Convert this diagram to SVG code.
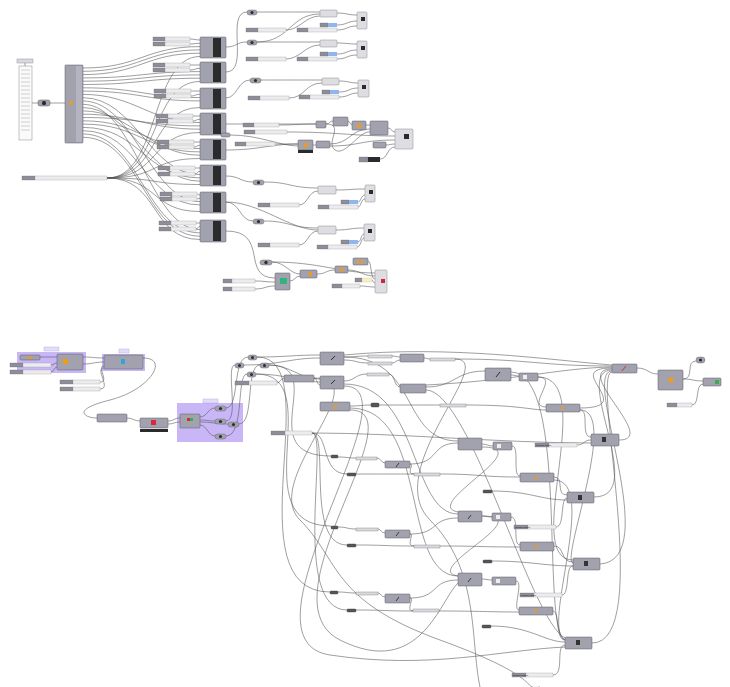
<svg xmlns="http://www.w3.org/2000/svg" width="730" height="687" viewBox="0 0 730 687">
<style>
.n{fill:#a2a2ae;stroke:#5a5a64;stroke-width:.5}
.lt{fill:#dedee2;stroke:#8a8a90;stroke-width:.5}
.k{fill:#2b2b2e}
.sl{fill:#8e8e9a;stroke:#666;stroke-width:.3}
.sb{fill:#ececee;stroke:#9a9aa0;stroke-width:.35}
.bl{fill:#8fb7ee}
.ye{fill:#f7f0c2}
.pn{fill:#dadade;stroke:#7c7c84;stroke-width:.4}
.dk{fill:#55555c;stroke:#333;stroke-width:.4}
.tg{fill:#a2a2ae;stroke:#55555e;stroke-width:.4}
.tc{fill:#2e2e30}
.or{fill:#f29a1c}
.grp{fill:#c9b6f7}
.tab{fill:#e4dcfb;stroke:#9a8ad0;stroke-width:.3}
.w{fill:none;stroke:#4e4e52;stroke-width:.55}
.t{font-family:'Liberation Sans',Arial,sans-serif;font-size:2.4px;fill:#222}
</style>
<rect width="730" height="687" fill="#ffffff"/>

<g id="groups">
<rect class="grp" x="17" y="352" width="69" height="21"/>
<rect class="tab" x="44" y="347" width="15" height="4"/>
<rect class="grp" x="102" y="354" width="43" height="17"/>
<rect class="tab" x="119" y="349" width="10" height="4"/>
<rect class="grp" x="177" y="403" width="66" height="39"/>
<rect class="tab" x="203" y="399" width="15" height="4"/>
</g>

<g id="connectors">
<path class="w" d="M32 103 C35 103,35 103,38 103"/>
<path class="w" d="M50 103 C57 103,58 103,65 103"/>
<path class="w" d="M25 63 L25 66"/>
<path class="w" d="M83 68 C140 68,145 46.6,200 46.6"/>
<path class="w" d="M83 71.3 C140 71.3,145 49.9,200 49.9"/>
<path class="w" d="M83 74.6 C140 74.6,145 53.2,200 53.2"/>
<path class="w" d="M83 77.9 C140 77.9,145 71.6,200 71.6"/>
<path class="w" d="M83 81.2 C140 81.2,145 74.9,200 74.9"/>
<path class="w" d="M83 84.5 C140 84.5,145 78.2,200 78.2"/>
<path class="w" d="M83 87.8 C140 87.8,145 97.6,200 97.6"/>
<path class="w" d="M83 91.1 C140 91.1,145 100.9,200 100.9"/>
<path class="w" d="M83 94.4 C135 94.4,150 122.6,200 122.6"/>
<path class="w" d="M83 117.5 C140 117.5,145 125.9,200 125.9"/>
<path class="w" d="M83 120.8 C140 120.8,145 148.6,200 148.6"/>
<path class="w" d="M83 124.1 C140 124.1,145 151.9,200 151.9"/>
<path class="w" d="M83 97.7 C135 97.7,150 174.6,200 174.6"/>
<path class="w" d="M83 127.4 C140 127.4,145 177.9,200 177.9"/>
<path class="w" d="M83 101 C135 101,150 201.6,200 201.6"/>
<path class="w" d="M83 130.7 C140 130.7,145 204.9,200 204.9"/>
<path class="w" d="M83 104.3 C135 104.3,150 229.6,200 229.6"/>
<path class="w" d="M83 134 C140 134,145 232.9,200 232.9"/>
<path class="w" d="M83 137.3 C140 137.3,145 236.2,200 236.2"/>
<path class="w" d="M83 107.6 C130 107.6,150 181.2,200 181.2"/>
<path class="w" d="M83 110.9 C130 110.9,150 155.2,200 155.2"/>
<path class="w" d="M83 114.2 C130 114.2,150 129.2,200 129.2"/>
<path class="w" d="M190 39 C195 39,195 40,200 40"/>
<path class="w" d="M190 44 C195 44,195 43.3,200 43.3"/>
<path class="w" d="M190 65 C195 65,195 65,200 65"/>
<path class="w" d="M190 70 C195 70,195 68.3,200 68.3"/>
<path class="w" d="M191 91 C195 91,195 91,200 91"/>
<path class="w" d="M191 96 C195 96,195 94.3,200 94.3"/>
<path class="w" d="M193 116 C196 116,196 116,200 116"/>
<path class="w" d="M193 121 C196 121,196 119.3,200 119.3"/>
<path class="w" d="M194 142 C197 142,197 142,200 142"/>
<path class="w" d="M194 147 C197 147,197 145.3,200 145.3"/>
<path class="w" d="M195 168 C197 168,197 168,200 168"/>
<path class="w" d="M195 174 C197 174,197 171.3,200 171.3"/>
<path class="w" d="M197 194 C198 194,198 195,200 195"/>
<path class="w" d="M197 199 C198 199,198 198.3,200 198.3"/>
<path class="w" d="M196 223 C198 223,198 223,200 223"/>
<path class="w" d="M196 229 C198 229,198 226.3,200 226.3"/>
<path class="w" d="M107 178 C160 178,150 56.5,200 56.5"/>
<path class="w" d="M107 178 C160 178,150 81.5,200 81.5"/>
<path class="w" d="M107 178 C160 178,150 107.5,200 107.5"/>
<path class="w" d="M107 178 C160 178,150 132.5,200 132.5"/>
<path class="w" d="M107 178 C160 178,150 158.5,200 158.5"/>
<path class="w" d="M107 178 C160 178,150 184.5,200 184.5"/>
<path class="w" d="M107 178 C160 178,150 211.5,200 211.5"/>
<path class="w" d="M107 178 C160 178,150 239.5,200 239.5"/>
<path class="w" d="M226 47 C237 47,236 42,247 42"/>
<path class="w" d="M226 72 C250 72,225 12,247 12"/>
<path class="w" d="M226 98 C237 98,238 80,250 80"/>
<path class="w" d="M226 124 C270 124,280 124,316 124"/>
<path class="w" d="M226 150 C260 150,270 144,298 144"/>
<path class="w" d="M226 176 C240 176,240 182,253 182"/>
<path class="w" d="M226 202 C260 202,290 230,318 230"/>
<path class="w" d="M226 202 C240 202,240 221,253 221"/>
<path class="w" d="M226 231 C270 231,240 278,275 278"/>
<path class="w" d="M230 135 C260 135,280 146,298 146"/>
<path class="w" d="M257 12 C290 12,290 12,320 12"/>
<path class="w" d="M257 42 C290 42,290 14,320 14"/>
<path class="w" d="M286 30 C300 30,305 16,320 16"/>
<path class="w" d="M337 13 C347 13,347 15,357 15"/>
<path class="w" d="M337 25 C347 25,347 21,357 21"/>
<path class="w" d="M337 30 C347 30,347 26,357 26"/>
<path class="w" d="M257 42 C290 42,290 42,320 42"/>
<path class="w" d="M286 59 C300 59,305 45,320 45"/>
<path class="w" d="M337 43 C347 43,347 44,357 44"/>
<path class="w" d="M337 54 C347 54,347 50,357 50"/>
<path class="w" d="M337 59 C347 59,347 55,357 55"/>
<path class="w" d="M261 80 C290 80,290 80,322 80"/>
<path class="w" d="M289 98 C305 98,305 83,322 83"/>
<path class="w" d="M339 81 C349 81,349 83,358 83"/>
<path class="w" d="M339 92 C349 92,349 88,358 88"/>
<path class="w" d="M339 97 C349 97,349 93,358 93"/>
<path class="w" d="M279 125 C297 125,297 124,316 124"/>
<path class="w" d="M326 124 C330 124,329 121,333 121"/>
<path class="w" d="M348 121 C350 121,350 125,352 125"/>
<path class="w" d="M366 125 C368 125,368 125,370 125"/>
<path class="w" d="M388 128 C392 128,391 132,395 132"/>
<path class="w" d="M287 132 C340 132,350 136,395 136"/>
<path class="w" d="M275 144 C287 144,287 144,298 144"/>
<path class="w" d="M313 145 C315 145,315 145,316 145"/>
<path class="w" d="M330 144 C350 144,350 129,370 129"/>
<path class="w" d="M330 146 C360 146,360 140,395 140"/>
<path class="w" d="M326 124 C345 124,325 143,335 150 S 360 130,370 132"/>
<path class="w" d="M386 145 C390 145,391 144,395 144"/>
<path class="w" d="M380 159 C388 159,387 147,395 147"/>
<path class="w" d="M264 182 C290 182,290 188,318 188"/>
<path class="w" d="M299 205 C308 205,308 191,318 191"/>
<path class="w" d="M336 190 C350 190,350 189,365 189"/>
<path class="w" d="M358 202 C361 202,361 195,365 195"/>
<path class="w" d="M358 207 C361 207,361 199,365 199"/>
<path class="w" d="M264 221 C290 221,290 228,318 228"/>
<path class="w" d="M299 245 C308 245,308 231,318 231"/>
<path class="w" d="M336 230 C350 230,350 228,364 228"/>
<path class="w" d="M358 242 C361 242,361 234,364 234"/>
<path class="w" d="M357 247 C361 247,361 238,364 238"/>
<path class="w" d="M272 262 C285 262,290 274,300 274"/>
<path class="w" d="M272 262 C320 262,340 273,375 273"/>
<path class="w" d="M255 281 C265 281,265 282,275 282"/>
<path class="w" d="M255 289 C265 289,265 286,275 286"/>
<path class="w" d="M290 281 C295 281,295 276,300 276"/>
<path class="w" d="M317 274 C326 274,326 270,335 270"/>
<path class="w" d="M348 270 C360 270,362 276,375 276"/>
<path class="w" d="M368 261 C372 261,370 279,375 279"/>
<path class="w" d="M372 280 C373 280,373 283,375 283"/>
<path class="w" d="M360 286 C367 286,368 287,375 287"/>

<path class="w" d="M40 357 C48 357,49 357,57 357"/>
<path class="w" d="M51 365 C54 365,54 363,57 363"/>
<path class="w" d="M51 372 C54 372,54 367,57 367"/>
<path class="w" d="M83 357 C93 357,94 358,104 358"/>
<path class="w" d="M83 364 C93 364,94 362,104 362"/>
<path class="w" d="M100 382 C110 382,96 366,104 366"/>
<path class="w" d="M100 389 C112 389,94 368,104 368"/>
<path class="w" d="M143 358 C170 358,150 390,110 400 S85 418,97 418"/>
<path class="w" d="M127 418 C133 418,134 421,140 421"/>
<path class="w" d="M168 421 C174 421,174 418,180 418"/>
<path class="w" d="M168 424 C174 424,174 422,180 422"/>
<path class="w" d="M200 417 C207 417,208 408,215 408"/>
<path class="w" d="M200 420 C207 420,208 421,215 421"/>
<path class="w" d="M200 422 C212 422,216 424,228 424"/>
<path class="w" d="M200 425 C207 425,208 436,215 436"/>
<path class="w" d="M226 408 C240 408,232 357,248 357"/>
<path class="w" d="M226 421 C240 421,225 365,235 365"/>
<path class="w" d="M239 424 C255 424,245 365,260 365"/>
<path class="w" d="M226 436 C245 436,236 374,247 374"/>
<path class="w" d="M257 357 C285 357,295 355,320 355"/>
<path class="w" d="M244 365 C280 365,290 358,320 358"/>
<path class="w" d="M269 365 C290 365,300 379,320 379"/>
<path class="w" d="M256 374 C285 374,300 382,320 382"/>
<path class="w" d="M277 383 C280 383,281 378,284 378"/>
<path class="w" d="M314 378 C317 378,317 385,320 385"/>
<path class="w" d="M344 357 C356 357,356 356,368 356"/>
<path class="w" d="M344 360 C356 360,356 363,368 363"/>
<path class="w" d="M344 381 C355 381,355 374,367 374"/>
<path class="w" d="M392 356 C396 356,396 357,400 357"/>
<path class="w" d="M392 363 C396 363,396 360,400 360"/>
<path class="w" d="M424 358 C427 358,427 359,430 359"/>
<path class="w" d="M455 359 C530 359,540 366,612 366"/>
<path class="w" d="M389 374 C395 374,394 387,400 387"/>
<path class="w" d="M426 387 C455 387,455 371,485 371"/>
<path class="w" d="M350 406 C360 406,362 405,371 405"/>
<path class="w" d="M379 405 C410 405,410 405,440 405"/>
<path class="w" d="M466 405 C520 405,530 410,546 410"/>
<path class="w" d="M511 375 C515 375,515 376,519 376"/>
<path class="w" d="M538 377 C560 377,525 407,546 407"/>
<path class="w" d="M637 368 C648 368,648 374,658 374"/>
<path class="w" d="M683 379 C695 379,685 361,696 361"/>
<path class="w" d="M683 379 C693 379,693 381,703 381"/>
<path class="w" d="M692 405 C700 405,695 384,703 384"/>
<path class="w" d="M580 408 C640 408,560 368,612 368"/>
<path class="w" d="M619 440 C660 440,570 369,612 369"/>
<path class="w" d="M594 497 C650 497,570 370,612 370"/>
<path class="w" d="M600 564 C665 560,580 371,612 371"/>
<path class="w" d="M592 643 C655 643,590 372,612 372"/>
<path class="w" d="M577 445 C585 445,583 440,591 440"/>
<path class="w" d="M580 410 C590 410,580 437,591 437"/>
<path class="w" d="M482 444 C487 444,488 446,493 446"/>
<path class="w" d="M512 446 C520 446,512 476,520 476"/>
<path class="w" d="M554 477 C565 477,555 495,567 495"/>
<path class="w" d="M556 527 C565 527,560 498,567 498"/>
<path class="w" d="M482 516 C487 516,487 517,492 517"/>
<path class="w" d="M511 517 C520 517,512 545,520 545"/>
<path class="w" d="M554 546 C565 546,560 562,573 562"/>
<path class="w" d="M562 595 C570 595,565 565,573 566"/>
<path class="w" d="M482 579 C487 579,487 580,492 580"/>
<path class="w" d="M516 581 C524 581,512 610,519 610"/>
<path class="w" d="M553 611 C560 611,555 640,565 640"/>
<path class="w" d="M553 675 C565 675,555 645,565 645"/>
<path class="w" d="M338 457 C347 457,347 458,356 458"/>
<path class="w" d="M377 458 C381 458,381 463,385 463"/>
<path class="w" d="M356 474 C385 474,385 474,414 474"/>
<path class="w" d="M410 464 C415 464,405 474,414 474"/>
<path class="w" d="M440 474 C480 474,480 477,520 477"/>
<path class="w" d="M492 491 C530 491,540 500,567 500"/>
<path class="w" d="M338 527 C347 527,347 529,356 529"/>
<path class="w" d="M378 529 C381 529,381 533,385 533"/>
<path class="w" d="M356 545 C385 545,385 546,414 546"/>
<path class="w" d="M410 534 C415 534,405 546,414 546"/>
<path class="w" d="M440 546 C480 546,480 547,520 547"/>
<path class="w" d="M492 561 C530 561,545 566,573 566"/>
<path class="w" d="M338 592 C347 592,347 593,356 593"/>
<path class="w" d="M378 593 C381 593,381 597,385 597"/>
<path class="w" d="M356 610 C385 610,385 611,413 611"/>
<path class="w" d="M410 598 C415 598,405 611,413 611"/>
<path class="w" d="M439 611 C480 611,490 612,519 612"/>
<path class="w" d="M491 626 C530 626,545 642,565 642"/>
<path class="w" d="M410 464 C440 464,430 443,458 443"/>
<path class="w" d="M344 357 C420 357,400 441,458 441"/>
<path class="w" d="M344 384 C420 384,410 514,458 514"/>
<path class="w" d="M350 408 C430 408,400 576,458 576"/>
<path class="w" d="M410 534 C440 534,430 518,458 518"/>
<path class="w" d="M410 598 C440 598,430 580,458 580"/>
<path class="w" d="M269 365 C330 365,250 456,331 456"/>
<path class="w" d="M256 374 C330 374,240 526,331 526"/>
<path class="w" d="M257 357 C330 357,230 592,330 592"/>
<path class="w" d="M312 433 C330 433,320 474,347 474"/>
<path class="w" d="M312 433 C330 433,305 545,347 545"/>
<path class="w" d="M312 433 C330 433,290 610,347 610"/>
<path class="w" d="M344 386 C420 386,230 640,330 655 S500 650,565 647"/>
<path class="w" d="M350 410 C420 410,260 600,340 640 S440 600,458 583"/>
<path class="w" d="M538 377 C600 377,520 560,573 560"/>
<path class="w" d="M511 372 C570 372,540 630,565 640"/>
<path class="w" d="M482 447 C540 447,420 505,458 512"/>
<path class="w" d="M482 516 C540 516,420 570,458 576"/>
<path class="w" d="M426 390 C470 390,530 620,565 638"/>
<path class="w" d="M580 410 C620 410,560 560,573 563"/>
<path class="w" d="M554 480 C600 480,540 630,565 640"/>
<path class="w" d="M344 355 C450 345,550 360,612 365"/>
<path class="w" d="M426 385 C520 380,560 368,612 367"/>
<path class="w" d="M312 433 C400 433,500 443,591 443"/>
<path class="w" d="M314 378 C380 378,260 480,300 520 S330 600,440 640 S520 690,540 687"/>
<path class="w" d="M455 359 C500 359,380 470,430 520 S470 640,480 687"/>
</g>

<g id="valuelist">
<rect class="pn" x="17" y="59" width="16" height="4"/>
<rect x="19" y="66" width="13" height="74" fill="#fafafa" stroke="#8a8a90" stroke-width=".5"/>
<path d="M21 70h9M21 74h9M21 78h9M21 82h9M21 86h9M21 90h9M21 94h9M21 98h9M21 102h9M21 106h9M21 110h9M21 114h9M21 118h9M21 122h9M21 126h9M21 130h9" stroke="#c4c4c8" stroke-width=".8"/>
</g>
<g id="relay"><rect class="n" x="38" y="100" width="12" height="6" rx="2"/><rect class="k" x="42" y="101" width="4" height="4" rx="1.5"/></g>
<g id="listitem"><rect class="n" x="65" y="65" width="18" height="78" rx="1"/><rect x="76" y="66" width="6" height="76" fill="#b4b4c0"/><circle class="or" cx="71" cy="103" r="2"/></g>
<g id="longslider"><rect class="sl" x="22" y="176" width="13" height="4"/><rect class="sb" x="35" y="176" width="72" height="4"/></g>

<g id="c1"><rect class="sl" x="153" y="37" width="12" height="4"/><rect class="sb" x="165" y="37" width="25" height="4"/><rect class="sl" x="153" y="42" width="12" height="4"/><rect class="sb" x="165" y="42" width="25" height="4"/><rect class="n" x="200" y="37" width="26" height="21" rx="1"/><rect class="k" x="213" y="38" width="8" height="19"/></g>
<g id="c2"><rect class="sl" x="153" y="63" width="12" height="4"/><rect class="sb" x="165" y="63" width="25" height="4"/><rect class="sl" x="153" y="68" width="12" height="4"/><rect class="sb" x="165" y="68" width="25" height="4"/><rect class="n" x="200" y="62" width="26" height="21" rx="1"/><rect class="k" x="213" y="63" width="8" height="19"/></g>
<g id="c3"><rect class="sl" x="154" y="89" width="12" height="4"/><rect class="sb" x="166" y="89" width="25" height="4"/><rect class="sl" x="154" y="94" width="12" height="4"/><rect class="sb" x="166" y="94" width="25" height="4"/><rect class="n" x="200" y="88" width="26" height="21" rx="1"/><rect class="k" x="213" y="89" width="8" height="19"/></g>
<g id="c4"><rect class="sl" x="156" y="114" width="12" height="4"/><rect class="sb" x="168" y="114" width="25" height="4"/><rect class="sl" x="156" y="119" width="12" height="4"/><rect class="sb" x="168" y="119" width="25" height="4"/><rect class="n" x="200" y="113" width="26" height="22" rx="1"/><rect class="k" x="213" y="114" width="8" height="20"/><rect class="n" x="221" y="133" width="9" height="4" rx="1.5"/></g>
<g id="c5"><rect class="sl" x="157" y="140" width="12" height="4"/><rect class="sb" x="169" y="140" width="25" height="4"/><rect class="sl" x="157" y="145" width="12" height="4"/><rect class="sb" x="169" y="145" width="25" height="4"/><rect class="n" x="200" y="139" width="26" height="21" rx="1"/><rect class="k" x="213" y="140" width="8" height="19"/></g>
<g id="c6"><rect class="sl" x="158" y="166" width="12" height="4"/><rect class="sb" x="170" y="166" width="25" height="4"/><rect class="sl" x="158" y="172" width="12" height="4"/><rect class="sb" x="170" y="172" width="25" height="4"/><rect class="n" x="200" y="165" width="26" height="21" rx="1"/><rect class="k" x="213" y="166" width="8" height="19"/></g>
<g id="c7"><rect class="sl" x="160" y="192" width="12" height="4"/><rect class="sb" x="172" y="192" width="25" height="4"/><rect class="sl" x="160" y="197" width="12" height="4"/><rect class="sb" x="172" y="197" width="25" height="4"/><rect class="n" x="200" y="192" width="26" height="21" rx="1"/><rect class="k" x="213" y="193" width="8" height="19"/></g>
<g id="c8"><rect class="sl" x="159" y="221" width="12" height="4"/><rect class="sb" x="171" y="221" width="25" height="4"/><rect class="sl" x="159" y="227" width="12" height="4"/><rect class="sb" x="171" y="227" width="25" height="4"/><rect class="n" x="200" y="220" width="26" height="22" rx="1"/><rect class="k" x="213" y="221" width="8" height="20"/></g>

<g id="rowA"><rect class="tg" x="247" y="10" width="10" height="5" rx="2.5"/><circle class="tc" cx="252" cy="12.5" r="1.6"/><rect class="lt" x="320" y="10" width="17" height="7" rx="1"/><rect class="lt" x="357" y="12" width="10" height="17" rx="1"/><rect class="k" x="361" y="17" width="4" height="4"/><rect class="sl" x="320" y="23" width="8" height="4"/><rect class="bl" x="328" y="23" width="9" height="4"/><rect class="sl" x="297" y="28" width="11" height="4"/><rect class="sb" x="308" y="28" width="29" height="4"/><rect class="sl" x="246" y="28" width="12" height="4"/><rect class="sb" x="258" y="28" width="28" height="4"/></g>
<g id="rowB"><rect class="tg" x="247" y="40" width="10" height="5" rx="2.5"/><circle class="tc" cx="252" cy="42.5" r="1.6"/><rect class="lt" x="320" y="40" width="17" height="7" rx="1"/><rect class="lt" x="357" y="41" width="10" height="17" rx="1"/><rect class="k" x="361" y="46" width="4" height="4"/><rect class="sl" x="320" y="52" width="8" height="4"/><rect class="bl" x="328" y="52" width="9" height="4"/><rect class="sl" x="297" y="57" width="11" height="4"/><rect class="sb" x="308" y="57" width="29" height="4"/><rect class="sl" x="246" y="57" width="12" height="4"/><rect class="sb" x="258" y="57" width="28" height="4"/></g>
<g id="rowC"><rect class="tg" x="250" y="78" width="11" height="5" rx="2.5"/><circle class="tc" cx="255.5" cy="80.5" r="1.6"/><rect class="lt" x="322" y="78" width="17" height="7" rx="1"/><rect class="lt" x="358" y="80" width="11" height="17" rx="1"/><rect class="k" x="362" y="85" width="4" height="4"/><rect class="sl" x="322" y="90" width="8" height="4"/><rect class="bl" x="330" y="90" width="9" height="4"/><rect class="sl" x="299" y="95" width="11" height="4"/><rect class="sb" x="310" y="95" width="29" height="4"/><rect class="sl" x="248" y="96" width="12" height="4"/><rect class="sb" x="260" y="96" width="29" height="4"/></g>
<g id="rowD"><rect class="sl" x="243" y="123" width="11" height="4"/><rect class="sb" x="254" y="123" width="25" height="4"/><rect class="sl" x="244" y="130" width="11" height="4"/><rect class="sb" x="255" y="130" width="32" height="4"/><rect class="n" x="316" y="121" width="10" height="7" rx="1"/><rect class="n" x="333" y="117" width="15" height="9" rx="1"/><rect class="n" x="352" y="121" width="14" height="9" rx="1"/><circle class="or" cx="359" cy="125.5" r="2.2"/><rect class="n" x="370" y="121" width="18" height="14" rx="1"/><rect class="lt" x="395" y="129" width="18" height="20" rx="1"/><rect class="k" x="404" y="134" width="5" height="5"/><rect class="sl" x="235" y="142" width="11" height="4"/><rect class="sb" x="246" y="142" width="29" height="4"/><rect class="n" x="298" y="140" width="15" height="10" rx="1"/><circle class="or" cx="305.5" cy="145" r="2.3"/><rect class="k" x="298" y="150" width="15" height="3"/><rect class="n" x="316" y="141" width="14" height="7" rx="1"/><rect class="n" x="373" y="142" width="13" height="6" rx="1"/><rect class="sl" x="359" y="157" width="9" height="5"/><rect class="k" x="368" y="157" width="12" height="5"/></g>
<g id="rowE"><rect class="tg" x="253" y="180" width="11" height="5" rx="2.5"/><circle class="tc" cx="258.5" cy="182.5" r="1.6"/><rect class="lt" x="318" y="186" width="18" height="8" rx="1"/><rect class="lt" x="365" y="185" width="10" height="17" rx="1"/><rect class="k" x="369" y="190" width="4" height="4"/><rect class="sl" x="341" y="200" width="8" height="4"/><rect class="bl" x="349" y="200" width="9" height="4"/><rect class="sl" x="318" y="205" width="11" height="4"/><rect class="sb" x="329" y="205" width="29" height="4"/><rect class="sl" x="258" y="203" width="12" height="4"/><rect class="sb" x="270" y="203" width="29" height="4"/></g>
<g id="rowF"><rect class="tg" x="253" y="219" width="11" height="5" rx="2.5"/><circle class="tc" cx="258.5" cy="221.5" r="1.6"/><rect class="lt" x="318" y="226" width="18" height="8" rx="1"/><rect class="lt" x="364" y="224" width="11" height="17" rx="1"/><rect class="k" x="368" y="229" width="4" height="4"/><rect class="sl" x="341" y="240" width="8" height="4"/><rect class="bl" x="349" y="240" width="9" height="4"/><rect class="sl" x="317" y="245" width="11" height="4"/><rect class="sb" x="328" y="245" width="29" height="4"/><rect class="sl" x="258" y="243" width="12" height="4"/><rect class="sb" x="270" y="243" width="29" height="4"/></g>
<g id="rowG"><rect class="tg" x="260" y="260" width="12" height="5" rx="2.5"/><circle class="tc" cx="266" cy="262.5" r="1.7"/><rect class="n" x="275" y="273" width="15" height="17" rx="1"/><rect x="280" y="278" width="7" height="6" fill="#2fb47c"/><rect class="n" x="300" y="270" width="17" height="8" rx="1"/><rect class="or" x="309" y="272" width="3" height="4"/><rect class="n" x="335" y="266" width="13" height="7" rx="1"/><circle class="or" cx="341.5" cy="269.5" r="2"/><rect class="n" x="353" y="258" width="15" height="7" rx="1"/><rect class="or" x="357" y="259.5" width="2" height="4"/><rect class="or" x="361" y="259.5" width="2" height="4"/><rect class="lt" x="375" y="270" width="12" height="23" rx="1"/><rect x="381" y="279" width="4" height="4" fill="#c8283a"/><rect class="sl" x="355" y="278" width="7" height="4"/><rect class="ye" x="362" y="278" width="10" height="4" stroke="#bbb" stroke-width=".3"/><rect class="sl" x="332" y="284" width="10" height="4"/><rect class="sb" x="342" y="284" width="18" height="4"/><rect class="sl" x="223" y="279" width="9" height="4"/><rect class="sb" x="232" y="279" width="23" height="4"/><rect class="sl" x="223" y="287" width="9" height="4"/><rect class="sb" x="232" y="287" width="23" height="4"/></g>

<g id="g1nodes"><rect class="n" x="20" y="355" width="20" height="5" rx="1"/><circle class="or" cx="30" cy="357.5" r="1.6"/><rect class="n" x="57" y="354" width="26" height="16" rx="1"/><rect class="or" x="63" y="359" width="5" height="5"/><rect class="sl" x="10" y="363" width="13" height="4"/><rect class="sb" x="23" y="363" width="28" height="4"/><rect class="sl" x="10" y="370" width="13" height="4"/><rect class="sb" x="23" y="370" width="28" height="4"/></g>
<g id="g2nodes"><rect class="n" x="104" y="355" width="39" height="14" rx="1"/><rect x="121" y="359" width="4" height="5" fill="#3aa0d8"/><rect class="sl" x="60" y="380" width="13" height="4"/><rect class="sb" x="73" y="380" width="27" height="4"/><rect class="sl" x="60" y="387" width="13" height="4"/><rect class="sb" x="73" y="387" width="27" height="4"/></g>
<g id="n_a"><rect class="n" x="97" y="414" width="30" height="8" rx="1"/></g>
<g id="n_b"><rect class="n" x="140" y="418" width="28" height="10" rx="1"/><rect x="151" y="420" width="5" height="5" fill="#d8283a"/><rect class="k" x="140" y="429" width="28" height="3"/></g>
<g id="g3nodes"><rect class="n" x="180" y="414" width="20" height="14" rx="1"/><rect x="187" y="418" width="3" height="3" fill="#d8283a"/><rect x="190" y="418" width="3" height="3" fill="#3ab04c"/><rect class="tg" x="215" y="406" width="11" height="5" rx="2.5"/><circle class="tc" cx="220.5" cy="408.5" r="1.6"/><rect class="tg" x="215" y="419" width="11" height="5" rx="2.5"/><circle class="tc" cx="220.5" cy="421.5" r="1.6"/><rect class="tg" x="228" y="422" width="11" height="5" rx="2.5"/><circle class="tc" cx="233.5" cy="424.5" r="1.6"/><rect class="tg" x="215" y="434" width="11" height="5" rx="2.5"/><circle class="tc" cx="220.5" cy="436.5" r="1.6"/></g>

<g id="toggles"><rect class="tg" x="248" y="355" width="9" height="5" rx="2.5"/><circle class="tc" cx="252.5" cy="357.5" r="1.5"/><rect class="tg" x="235" y="363" width="9" height="5" rx="2.5"/><circle class="tc" cx="239.5" cy="365.5" r="1.5"/><rect class="tg" x="260" y="363" width="9" height="5" rx="2.5"/><circle class="tc" cx="264.5" cy="365.5" r="1.5"/><rect class="tg" x="247" y="372" width="9" height="5" rx="2.5"/><circle class="tc" cx="251.5" cy="374.5" r="1.5"/></g>
<g id="s1"><rect class="sl" x="235" y="381" width="14" height="4"/><rect class="sb" x="249" y="381" width="28" height="4"/></g>
<g id="N1"><rect class="n" x="284" y="375" width="30" height="7" rx="1"/></g>
<g id="N2"><rect class="n" x="320" y="352" width="24" height="13" rx="1"/><path d="M331 360 l4 -4" stroke="#222" stroke-width=".9"/></g>
<g id="N3"><rect class="n" x="320" y="376" width="24" height="13" rx="1"/><path d="M331 384 l4 -4" stroke="#222" stroke-width=".9"/></g>
<g id="N4"><rect class="n" x="320" y="402" width="30" height="9" rx="1"/><path d="M333 409 l4 -5" stroke="#f29a1c" stroke-width="1.4"/></g>
<g id="P1"><rect class="pn" x="368" y="355" width="24" height="3"/><rect class="pn" x="368" y="362" width="24" height="3"/><rect class="pn" x="367" y="373" width="22" height="3"/></g>
<g id="N5"><rect class="n" x="400" y="354" width="24" height="8" rx="1"/></g>
<g id="P2"><rect class="pn" x="430" y="358" width="25" height="3"/></g>
<g id="N6"><rect class="n" x="400" y="384" width="26" height="9" rx="1"/></g>
<g id="D1"><rect class="dk" x="371" y="403" width="8" height="4" rx="1"/><rect class="pn" x="440" y="404" width="26" height="3"/></g>
<g id="s2"><rect class="sl" x="271" y="431" width="14" height="4"/><rect class="sb" x="285" y="431" width="27" height="4"/></g>
<g id="N7"><rect class="n" x="458" y="438" width="24" height="12" rx="1"/></g>
<g id="N8"><rect class="n" x="485" y="368" width="26" height="13" rx="1"/><path d="M496 377 l4 -5" stroke="#222" stroke-width=".9"/></g>
<g id="N9"><rect class="n" x="519" y="373" width="19" height="8" rx="1"/><rect x="523" y="375" width="4" height="4" fill="#eee"/></g>
<g id="N10"><rect class="n" x="612" y="364" width="25" height="9" rx="1"/><path d="M622 371 l4 -5" stroke="#c8283a" stroke-width=".9"/></g>
<g id="N11"><rect class="n" x="658" y="370" width="25" height="20" rx="1"/><circle class="or" cx="671" cy="380" r="2.6"/></g>
<g id="T2"><rect class="tg" x="696" y="357" width="9" height="6" rx="3"/><circle class="tc" cx="700.5" cy="360" r="1.6"/></g>
<g id="N12"><rect class="n" x="703" y="378" width="18" height="8" rx="1"/><rect x="715" y="380" width="4" height="4" fill="#3ab04c"/></g>
<g id="s3"><rect class="sl" x="667" y="403" width="10" height="4"/><rect class="sb" x="677" y="403" width="15" height="4"/></g>
<g id="N13"><rect class="n" x="546" y="404" width="34" height="8" rx="1"/><path d="M561 410 l3 -4" stroke="#f29a1c" stroke-width="1.4"/></g>
<g id="N14"><rect class="n" x="591" y="434" width="28" height="12" rx="1"/><rect x="602" y="437" width="4" height="5" fill="#333"/></g>
<g id="s4"><rect class="sl" x="535" y="443" width="14" height="4"/><rect class="sb" x="549" y="443" width="28" height="4"/><text class="t" x="536" y="446">Number Slider</text></g>
<g id="N15"><rect class="n" x="493" y="442" width="19" height="8" rx="1"/><rect x="497" y="444" width="4" height="4" fill="#eee"/></g>
<g id="R1"><rect class="dk" x="331" y="455" width="7" height="3" rx="1"/><rect class="pn" x="356" y="457" width="21" height="3"/><rect class="dk" x="347" y="473" width="9" height="3" rx="1"/><rect class="pn" x="414" y="473" width="26" height="3"/><rect class="dk" x="483" y="490" width="9" height="3" rx="1"/></g>
<g id="N16"><rect class="n" x="385" y="461" width="25" height="7" rx="1"/><path d="M396 467 l3 -4" stroke="#222" stroke-width=".8"/></g>
<g id="N17"><rect class="n" x="520" y="473" width="34" height="9" rx="1"/><path d="M535 480 l3 -4" stroke="#f29a1c" stroke-width="1.4"/></g>
<g id="N18"><rect class="n" x="567" y="492" width="27" height="11" rx="1"/><rect x="578" y="495" width="4" height="5" fill="#333"/></g>
<g id="N19"><rect class="n" x="458" y="511" width="24" height="11" rx="1"/><path d="M468 519 l3 -4" stroke="#222" stroke-width=".8"/></g>
<g id="N20"><rect class="n" x="492" y="513" width="19" height="8" rx="1"/><rect x="496" y="515" width="4" height="4" fill="#eee"/></g>
<g id="s5"><rect class="sl" x="514" y="525" width="14" height="4"/><rect class="sb" x="528" y="525" width="28" height="4"/><text class="t" x="515" y="528">Number Slider</text></g>
<g id="N21"><rect class="n" x="520" y="542" width="34" height="9" rx="1"/><path d="M535 549 l3 -4" stroke="#f29a1c" stroke-width="1.4"/></g>
<g id="N22"><rect class="n" x="573" y="558" width="27" height="12" rx="1"/><rect x="584" y="561" width="4" height="5" fill="#333"/></g>
<g id="R2"><rect class="dk" x="331" y="526" width="7" height="3" rx="1"/><rect class="pn" x="356" y="528" width="22" height="3"/><rect class="dk" x="347" y="544" width="9" height="3" rx="1"/><rect class="pn" x="414" y="545" width="26" height="3"/><rect class="dk" x="483" y="560" width="9" height="3" rx="1"/></g>
<g id="N23"><rect class="n" x="385" y="530" width="25" height="8" rx="1"/><path d="M396 536 l3 -4" stroke="#222" stroke-width=".8"/></g>
<g id="N24"><rect class="n" x="458" y="573" width="24" height="13" rx="1"/><path d="M468 582 l3 -4" stroke="#222" stroke-width=".8"/></g>
<g id="N25"><rect class="n" x="492" y="577" width="24" height="8" rx="1"/><rect x="496" y="579" width="4" height="4" fill="#eee"/></g>
<g id="R3"><rect class="dk" x="330" y="591" width="8" height="3" rx="1"/><rect class="pn" x="356" y="592" width="22" height="3"/><rect class="dk" x="347" y="609" width="9" height="3" rx="1"/><rect class="pn" x="413" y="609" width="26" height="3"/><rect class="dk" x="482" y="625" width="9" height="3" rx="1"/></g>
<g id="N26"><rect class="n" x="385" y="594" width="25" height="9" rx="1"/><path d="M396 601 l3 -4" stroke="#222" stroke-width=".8"/></g>
<g id="s6"><rect class="sl" x="520" y="593" width="14" height="4"/><rect class="sb" x="534" y="593" width="28" height="4"/><text class="t" x="521" y="596">Number Slider</text></g>
<g id="N27"><rect class="n" x="519" y="607" width="34" height="8" rx="1"/><path d="M534 613 l3 -4" stroke="#f29a1c" stroke-width="1.4"/></g>
<g id="N28"><rect class="n" x="565" y="637" width="27" height="12" rx="1"/><rect x="576" y="640" width="4" height="5" fill="#333"/></g>
<g id="s7"><rect class="sl" x="512" y="673" width="14" height="4"/><rect class="sb" x="526" y="673" width="27" height="4"/><text class="t" x="513" y="676">Number Slider</text></g>
</svg>
